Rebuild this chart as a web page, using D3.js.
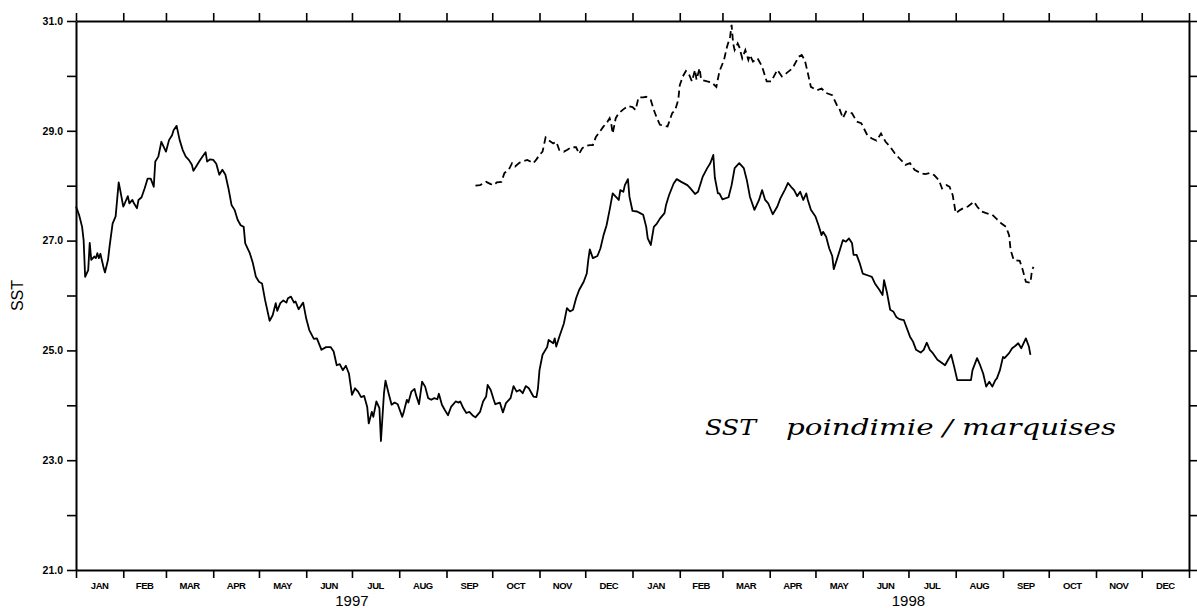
<!DOCTYPE html>
<html>
<head>
<meta charset="utf-8">
<script src="https://cdn.jsdelivr.net/npm/d3@7"></script>
<style>
  body { margin: 0; background: #fff; }
  svg { display: block; }
</style>
</head>
<body>
<div id="chart"></div>
<script>
// SST poindimie (solid) / marquises (dashed), Jan 1997 - Dec 1998
// days are counted from 1 Jan 1997
var solidDay = [0,2,4,5,6,8,9,10,12,13,14,15,16,18,19,21,22,24,26,28,29,31,32,34,35,37,38,40,41,43,45,47,49,51,52,54,56,57,59,61,63,64,66,68,70,72,74,76,77,79,81,83,85,86,88,90,92,94,96,98,100,102,104,106,108,110,111,114,116,118,120,122,124,127,129,131,132,134,136,138,139,141,143,144,146,149,151,153,156,158,161,164,167,169,171,173,175,177,179,181,183,185,187,189,191,192,194,195,197,199,200,202,203,205,207,209,211,214,215,217,218,220,222,223,225,227,229,231,233,235,237,238,240,242,244,246,249,251,252,254,256,258,260,262,265,267,269,270,272,274,275,278,280,282,285,287,289,291,293,295,297,300,302,303,304,306,309,310,313,314,315,317,320,322,324,326,328,330,333,335,336,337,339,342,344,346,348,350,352,354,356,357,359,360,362,363,365,368,370,372,374,375,377,379,381,383,386,387,389,392,394,397,401,403,406,408,409,411,414,416,418,419,421,422,424,428,430,432,435,438,440,442,445,448,450,452,454,457,460,462,465,467,469,471,473,475,477,479,480,482,485,487,489,490,492,494,496,497,499,501,503,505,507,509,510,512,514,516,520,522,524,527,529,530,532,534,536,538,540,543,545,547,549,551,554,556,558,560,562,565,568,570,572,574,576,578,582,587,588,591,593,595,597,599,601,603,604,606,608,609,612,614,616,618,620,622,623,625,626];
var solidSST = [27.62,27.47,27.25,27.01,26.34,26.46,26.96,26.65,26.71,26.68,26.77,26.68,26.76,26.52,26.42,26.65,26.89,27.31,27.44,28.06,27.92,27.62,27.68,27.81,27.68,27.74,27.68,27.59,27.74,27.79,27.95,28.13,28.13,27.98,28.44,28.53,28.80,28.74,28.62,28.83,28.92,29.01,29.09,28.83,28.65,28.53,28.47,28.38,28.27,28.36,28.45,28.53,28.61,28.44,28.48,28.47,28.40,28.20,28.29,28.20,27.95,27.65,27.56,27.38,27.28,27.25,26.95,26.77,26.59,26.34,26.25,26.22,25.92,25.54,25.64,25.86,25.72,25.86,25.91,25.87,25.95,25.98,25.87,25.89,25.75,25.87,25.58,25.37,25.21,25.22,25.01,25.06,25.06,24.98,24.73,24.75,24.64,24.72,24.58,24.19,24.31,24.25,24.15,24.17,23.97,23.67,23.88,23.79,24.07,23.95,23.35,24.22,24.45,24.22,24.01,24.05,24.02,23.79,23.88,24.10,24.05,24.25,24.30,24.19,24.02,24.43,24.34,24.13,24.10,24.13,24.11,24.21,24.01,23.91,23.82,23.97,24.07,24.05,24.07,23.95,23.86,23.88,23.82,23.78,23.88,24.07,24.16,24.37,24.28,24.10,24.02,24.05,23.87,24.04,24.13,24.35,24.25,24.28,24.22,24.35,24.31,24.16,24.15,24.31,24.64,24.92,25.06,25.19,25.13,25.22,25.07,25.25,25.49,25.77,25.71,25.74,25.95,26.10,26.25,26.40,26.65,26.84,26.68,26.72,26.86,27.10,27.28,27.56,27.86,27.80,27.74,27.92,27.89,28.01,28.12,27.80,27.54,27.53,27.50,27.47,27.25,27.04,26.92,27.25,27.31,27.40,27.50,27.65,27.83,28.04,28.12,28.07,28.01,27.95,27.85,27.89,27.98,28.16,28.32,28.41,28.56,28.15,27.86,27.86,27.75,27.79,28.01,28.32,28.41,28.32,28.10,27.80,27.56,27.74,27.92,27.74,27.68,27.48,27.62,27.77,27.93,28.05,27.98,27.92,27.81,27.89,27.74,27.86,27.74,27.56,27.44,27.28,27.10,27.16,27.07,26.86,26.72,26.48,26.65,26.83,27.01,26.98,27.04,26.95,26.74,26.74,26.59,26.40,26.36,26.34,26.22,26.10,26.01,26.28,26.04,25.74,25.71,25.61,25.57,25.55,25.40,25.25,25.16,25.01,24.96,25.01,25.14,25.01,24.95,24.83,24.77,24.73,24.83,24.92,24.70,24.46,24.46,24.46,24.64,24.86,24.73,24.58,24.34,24.43,24.34,24.46,24.49,24.64,24.88,24.86,24.95,25.04,25.08,25.13,25.04,25.16,25.22,25.07,24.92];

var dashDay = [262,265,267,269,272,274,276,279,281,284,286,288,291,293,296,298,300,302,304,306,308,310,313,315,317,320,322,325,328,330,332,334,337,339,341,344,346,348,350,351,352,354,356,359,362,365,367,369,372,374,377,379,381,383,386,388,391,393,395,396,398,400,402,404,406,407,409,410,414,417,420,422,425,427,429,430,431,432,434,435,437,439,441,442,444,447,450,453,456,460,463,466,470,474,476,478,480,482,486,489,492,496,499,501,503,505,509,512,515,519,522,525,528,531,534,537,540,544,547,550,554,557,560,563,566,568,571,573,575,577,580,582,585,589,591,594,597,601,604,607,610,612,613,615,619,621,623,626,627,628];
var dashSST = [28.00,28.01,28.04,28.07,28.03,28.01,28.06,28.07,28.23,28.30,28.41,28.35,28.42,28.44,28.47,28.44,28.41,28.48,28.56,28.62,28.88,28.83,28.77,28.80,28.65,28.62,28.65,28.70,28.70,28.58,28.68,28.72,28.74,28.74,28.89,29.00,29.08,29.14,29.23,29.14,28.95,29.23,29.32,29.39,29.45,29.43,29.38,29.61,29.61,29.62,29.56,29.38,29.23,29.11,29.09,29.08,29.32,29.38,29.56,29.83,29.99,30.09,30.03,29.90,30.11,29.93,30.14,29.93,29.90,29.88,29.80,30.08,30.29,30.53,30.71,30.93,30.59,30.47,30.59,30.53,30.32,30.47,30.29,30.38,30.26,30.32,30.17,29.90,29.90,30.11,29.99,30.05,30.14,30.35,30.38,30.29,30.05,29.80,29.74,29.77,29.69,29.65,29.47,29.38,29.23,29.35,29.32,29.17,29.14,28.92,28.86,28.82,28.95,28.80,28.71,28.59,28.50,28.38,28.41,28.29,28.23,28.21,28.23,28.19,28.10,27.95,28.01,27.98,27.83,27.50,27.56,27.59,27.62,27.71,27.62,27.53,27.50,27.47,27.39,27.31,27.25,27.10,26.83,26.65,26.63,26.46,26.25,26.23,26.46,26.52];

var monthNames = ["JAN","FEB","MAR","APR","MAY","JUN","JUL","AUG","SEP","OCT","NOV","DEC"];
var years = [1997, 1998];
var yTicks = [21,22,23,24,25,26,27,28,29,30,31];
var yLabelled = [21,23,25,27,29,31];
var legendParts = ["SST", "poindimie / marquises"];

//sets dimentions
var width = 1197, height = 608;
var margin = {top: 21, left: 76, right: 8, bottom: 38};

var start = new Date(1997, 0, 1), end = new Date(1999, 0, 1);
var x = d3.scaleTime().domain([start, end]).range([margin.left, width - margin.right]);
var y = d3.scaleLinear().domain([21, 31]).range([height - margin.bottom, margin.top]);

function toDate(d) { return d3.timeDay.offset(start, d); }

var svg = d3.select("#chart").append("svg")
  .attr("width", width)
  .attr("height", height);

var monthStarts = d3.timeMonth.range(start, d3.timeDay.offset(end, 1));

/////////////////////////////////AXES/////////////////////////////////

var axisFont = "'Liberation Sans', Arial, sans-serif";

var left = svg.append("g")
  .attr("transform", "translate(" + margin.left + ",0)")
  .call(d3.axisLeft(y).tickValues(yTicks).tickSize(9).tickSizeOuter(0).tickPadding(4)
    .tickFormat(function(d){ return yLabelled.indexOf(d) >= 0 ? d3.format(".1f")(d) : ""; }));

var right = svg.append("g")
  .attr("transform", "translate(" + (width - margin.right) + ",0)")
  .call(d3.axisRight(y).tickValues(yTicks).tickSize(8).tickSizeOuter(0).tickFormat(""));

var top_ = svg.append("g")
  .attr("transform", "translate(0," + margin.top + ")")
  .call(d3.axisTop(x).tickValues(monthStarts).tickSize(8).tickSizeOuter(0).tickFormat(""));

var bottom = svg.append("g")
  .attr("transform", "translate(0," + (height - margin.bottom) + ")")
  .call(d3.axisBottom(x).tickValues(monthStarts).tickSize(8).tickSizeOuter(0).tickFormat(""));

[left, right, top_, bottom].forEach(function(g){
  g.select(".domain").attr("stroke", "#000").attr("stroke-width", 2);
  g.selectAll(".tick line").attr("stroke", "#000").attr("stroke-width", 1.6);
  g.selectAll(".tick text")
    .attr("fill", "#000")
    .style("font-family", axisFont)
    .style("font-size", "10.5px")
    .style("font-weight", "bold");
});

// month labels in the middle of each month
var months = d3.timeMonth.range(start, end);
svg.append("g").selectAll("text")
  .data(months)
  .enter()
  .append("text")
  .attr("x", function(d){ return (x(d) + x(d3.timeMonth.offset(d, 1))) / 2; })
  .attr("y", 589)
  .attr("text-anchor", "middle")
  .style("font-family", axisFont)
  .style("font-size", "9.5px")
  .style("font-weight", "bold")
  .style("letter-spacing", "-0.5px")
  .text(function(d){ return monthNames[d.getMonth()]; });

// year labels, centred on 1 July
svg.append("g").selectAll("text")
  .data(years)
  .enter()
  .append("text")
  .attr("x", function(d){ return x(new Date(d, 6, 1)); })
  .attr("y", 606)
  .attr("text-anchor", "middle")
  .style("font-family", axisFont)
  .style("font-size", "15px")
  .text(function(d){ return d; });

svg.append("text")
  .attr("transform", "translate(23," + y(26) + ") rotate(-90)")
  .attr("text-anchor", "middle")
  .style("font-family", axisFont)
  .style("font-size", "16px")
  .text("SST");

/////////////////////////////////LINES/////////////////////////////////

var line = d3.line()
  .x(function(d){ return x(toDate(d[0])); })
  .y(function(d){ return y(d[1]); });

svg.append("path")
  .datum(d3.zip(solidDay, solidSST))
  .attr("d", line)
  .attr("fill", "none")
  .attr("stroke", "#000")
  .attr("stroke-width", 1.8)
  .attr("stroke-linejoin", "round");

svg.append("path")
  .datum(d3.zip(dashDay, dashSST))
  .attr("d", line)
  .attr("fill", "none")
  .attr("stroke", "#000")
  .attr("stroke-width", 1.8)
  .attr("stroke-dasharray", "7,4");

/////////////////////////////////LEGEND TEXT/////////////////////////////////

var legendFont = "'DejaVu Serif', 'Liberation Serif', serif";
svg.append("text")
  .attr("x", 705).attr("y", 435)
  .attr("textLength", 51).attr("lengthAdjust", "spacingAndGlyphs")
  .style("font-family", legendFont).style("font-style", "italic").style("font-size", "23px")
  .text(legendParts[0]);
svg.append("text")
  .attr("x", 786).attr("y", 435)
  .attr("textLength", 330).attr("lengthAdjust", "spacingAndGlyphs")
  .style("font-family", legendFont).style("font-style", "italic").style("font-size", "23px")
  .text(legendParts[1]);
</script>
</body>
</html>
